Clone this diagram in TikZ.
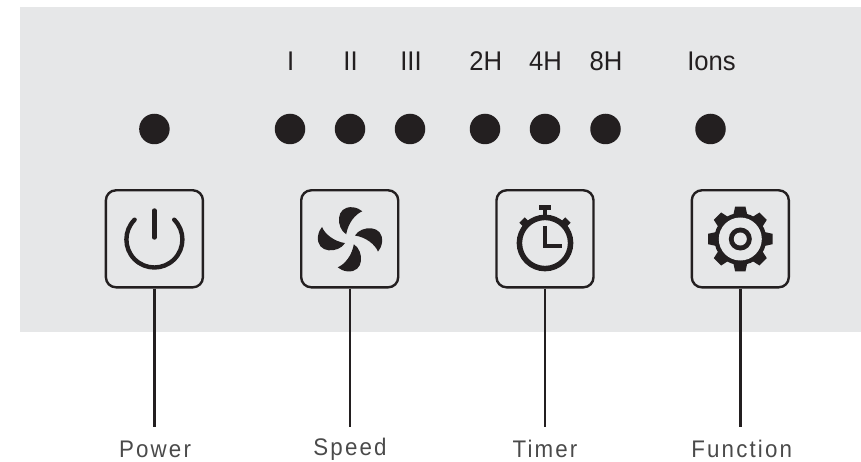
\documentclass[tikz,border=0pt]{standalone}
\usepackage{fontspec}
\setmainfont{Liberation Sans}
\definecolor{panelgrey}{HTML}{E6E7E8}
\definecolor{ink}{HTML}{231F20}
\definecolor{labelgrey}{HTML}{4A4A4A}
\newfontfamily\toplabelfont[FakeStretch=0.95]{Liberation Sans}
\newfontfamily\botlabelfont[FakeStretch=0.93,LetterSpace=9]{Liberation Sans}
\tikzset{
  ledtext/.style={anchor=base,inner sep=0pt,text=ink,font=\toplabelfont\fontsize{27}{31}\selectfont},
  led/.style={circle,fill=ink,draw=none,minimum size=30.5pt,inner sep=0pt},
  btn/.style={draw=ink,line width=2.4pt,rounded corners=10pt,minimum size=97pt,inner sep=0pt,fill=panelgrey},
  lbl/.style={anchor=base,inner sep=0pt,text=labelgrey,font=\botlabelfont\fontsize{24}{28}\selectfont},
  conn/.style={draw=ink,line width=2.4pt},
  icon/.style={draw=ink,line width=4.4pt},
}
\begin{document}
\begin{tikzpicture}[x=1pt,y=-1pt]
\useasboundingbox (0,0) rectangle (861,462);
\fill[panelgrey] (20,7) rectangle (861,332);
% top texts
\node[ledtext] (tI) at (290.6,71) {I};
\node[ledtext] (tII) at (350.5,71) {II};
\node[ledtext] (tIII) at (411,71) {III};
\node[ledtext] (t2) at (485.7,71) {2H};
\node[ledtext] (t4) at (545.6,71) {4H};
\node[ledtext] (t8) at (606,71) {8H};
\node[ledtext] (tIons) at (711.5,71) {Ions};
% LEDs
\node[led] (l0) at (154.4,129) {};
\node[led] (l1) at (290,129) {};
\node[led] (l2) at (350,129) {};
\node[led] (l3) at (410,129) {};
\node[led] (l4) at (485,129) {};
\node[led] (l5) at (545,129) {};
\node[led] (l6) at (605.5,129) {};
\node[led] (l7) at (710.5,129) {};
% buttons
\node[btn] (bP) at (154.4,238.8) {};
\node[btn] (bS) at (349.7,238.8) {};
\node[btn] (bT) at (545,238.8) {};
\node[btn] (bF) at (740.3,238.8) {};
% labels
\node[lbl] (nP) at (155,457) {Power};
\node[lbl] (nS) at (350,455) {Speed};
\node[lbl] (nT) at (545,457) {Timer};
\node[lbl] (nF) at (741.7,457) {Function};
% connectors
\coordinate (eP) at (154.4,427);
\coordinate (eS) at (349.7,427);
\coordinate (eT) at (545,427);
\coordinate (eF) at (740.3,427);
\draw[conn] (bP.south) -- (eP);
\draw[conn] (bS.south) -- (eS);
\draw[conn] (bT.south) -- (eT);
\draw[conn] (bF.south) -- (eF);
% power icon
\begin{scope}[shift={(154.4,239.5)}]
\draw[icon,line cap=round] (-19.8,-19.8) arc[start angle=135,end angle=405,radius=28pt];
\draw[icon,line cap=round] (0,-29) -- (0,-2);
\end{scope}
% fan icon
\foreach \a in {0,90,180,270}{
\begin{scope}[shift={(350,239.3)},rotate=\a]
\fill[ink] (-3.8,-5) .. controls (-14,-11) and (-15,-34) .. (3,-32)
  .. controls (7,-31.5) and (10,-30) .. (12.3,-28)
  .. controls (5,-25) and (-2,-16) .. cycle;
\end{scope}
}
% timer icon
\begin{scope}[shift={(545,243)}]
\draw[draw=ink,line width=5.5pt] (0,0) circle[radius=25.6pt];
\fill[ink] (-2.2,-34) rectangle (2.2,-26);
\fill[ink] (-6.3,-37.5) rectangle (6.3,-33);
\fill[ink,rotate=45] (-3.8,-32.5) rectangle (3.8,-26);
\fill[ink,rotate=-45] (-3.8,-32.5) rectangle (3.8,-26);
\draw[draw=ink,line width=4.5pt,miter limit=10] (0,-17) -- (0,3) -- (17,3);
\end{scope}
% gear icon
\begin{scope}[shift={(740.3,239)}]
\fill[ink] (0,0) circle[radius=26pt];
\foreach \a in {0,45,...,315}{
  \fill[ink,rotate=\a] (-7,-24) -- (-5.2,-32.3) -- (5.2,-32.3) -- (7,-24) -- cycle;
}
\fill[panelgrey] (0,0) circle[radius=21.5pt];
\fill[ink] (0,0) circle[radius=11.5pt];
\fill[panelgrey] (0,0) circle[radius=6.5pt];
\end{scope}
\end{tikzpicture}
\end{document}
